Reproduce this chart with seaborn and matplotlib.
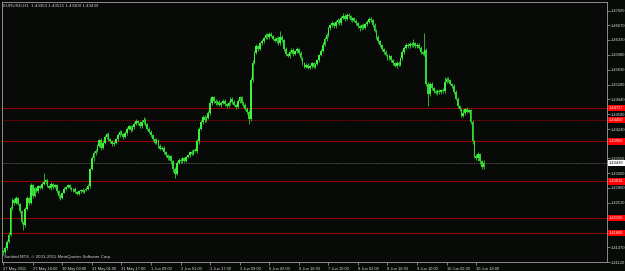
import numpy as np
import pandas as pd
import matplotlib
matplotlib.use("Agg")
import matplotlib.pyplot as plt
import seaborn as sns
from matplotlib.transforms import blended_transform_factory

# ---------------- data (EURUSD H1) ----------------
first_open = 1.4138
close = [
    1.4135, 1.4146, 1.4160, 1.4175, 1.4238, 1.4258, 1.4250, 1.4262, 1.4248, 1.4232,
    1.4205, 1.4198, 1.4236, 1.4262, 1.4250, 1.4292, 1.4268, 1.4285, 1.4278, 1.4290,
    1.4286, 1.4295, 1.4300, 1.4304, 1.4290, 1.4285, 1.4295, 1.4288, 1.4292, 1.4278,
    1.4268, 1.4262, 1.4275, 1.4284, 1.4288, 1.4292, 1.4286, 1.4280, 1.4284, 1.4276,
    1.4272, 1.4278, 1.4282, 1.4276, 1.4280, 1.4284, 1.4290, 1.4330, 1.4355, 1.4368,
    1.4372, 1.4385, 1.4398, 1.4380, 1.4392, 1.4405, 1.4412, 1.4400, 1.4395, 1.4388,
    1.4392, 1.4400, 1.4410, 1.4418, 1.4412, 1.4405, 1.4415, 1.4425, 1.4430, 1.4422,
    1.4428, 1.4436, 1.4442, 1.4438, 1.4430, 1.4440, 1.4446, 1.4435, 1.4425, 1.4418,
    1.4410, 1.4400, 1.4392, 1.4398, 1.4385, 1.4378, 1.4380, 1.4370, 1.4362, 1.4355,
    1.4360, 1.4348, 1.4330, 1.4318, 1.4345, 1.4352, 1.4348, 1.4355, 1.4350, 1.4358,
    1.4362, 1.4370, 1.4366, 1.4375, 1.4372, 1.4395, 1.4425, 1.4440, 1.4452, 1.4445,
    1.4450, 1.4462, 1.4485, 1.4498, 1.4490, 1.4484, 1.4488, 1.4480, 1.4486, 1.4490,
    1.4482, 1.4478, 1.4485, 1.4495, 1.4488, 1.4480, 1.4476, 1.4490, 1.4498, 1.4486,
    1.4480, 1.4472, 1.4465, 1.4448, 1.4540, 1.4580, 1.4602, 1.4618, 1.4612, 1.4625,
    1.4630, 1.4638, 1.4645, 1.4640, 1.4648, 1.4642, 1.4636, 1.4630, 1.4638, 1.4625,
    1.4640, 1.4632, 1.4612, 1.4600, 1.4595, 1.4605, 1.4610, 1.4600, 1.4606, 1.4612,
    1.4602, 1.4590, 1.4578, 1.4570, 1.4575, 1.4568, 1.4572, 1.4578, 1.4570, 1.4576,
    1.4585, 1.4598, 1.4608, 1.4622, 1.4635, 1.4645, 1.4660, 1.4668, 1.4672, 1.4665,
    1.4675, 1.4680, 1.4672, 1.4685, 1.4690, 1.4682, 1.4692, 1.4688, 1.4680, 1.4684,
    1.4678, 1.4672, 1.4665, 1.4660, 1.4668, 1.4662, 1.4670, 1.4676, 1.4682, 1.4680,
    1.4668, 1.4655, 1.4640, 1.4630, 1.4620, 1.4612, 1.4605, 1.4598, 1.4590, 1.4595,
    1.4585, 1.4578, 1.4572, 1.4580, 1.4575, 1.4590, 1.4605, 1.4615, 1.4622, 1.4618,
    1.4624, 1.4620, 1.4626, 1.4618, 1.4622, 1.4615, 1.4605, 1.4600, 1.4610, 1.4530,
    1.4505, 1.4530, 1.4520, 1.4512, 1.4508, 1.4514, 1.4510, 1.4516, 1.4512, 1.4535,
    1.4542, 1.4538, 1.4530, 1.4525, 1.4510, 1.4495, 1.4478, 1.4470, 1.4455, 1.4462,
    1.4470, 1.4465, 1.4468, 1.4440, 1.4395, 1.4360, 1.4355, 1.4365, 1.4348, 1.43353,
    1.43439,
]
wick_up_pips = [
    3, 4, 3, 8, 5, 4, 3, 5, 2, 3,
    2, 3, 4, 5, 3, 6, 4, 3, 4, 3,
    3, 4, 20, 3, 2, 3, 4, 2, 3, 2,
    3, 4, 2, 3, 2, 3, 2, 3, 2, 3,
    2, 3, 2, 3, 2, 3, 4, 3, 5, 4,
    4, 5, 3, 4, 6, 5, 3, 4, 3, 4,
    3, 4, 5, 3, 4, 3, 5, 4, 3, 4,
    5, 4, 6, 3, 4, 5, 6, 3, 4, 3,
    4, 3, 4, 5, 3, 4, 3, 4, 3, 4,
    3, 4, 3, 4, 5, 3, 4, 3, 4, 3,
    4, 3, 4, 3, 4, 5, 4, 6, 5, 4,
    4, 5, 12, 4, 3, 4, 3, 4, 3, 4,
    4, 3, 4, 5, 3, 4, 3, 5, 4, 3,
    3, 4, 3, 4, 6, 5, 4, 5, 4, 3,
    4, 3, 5, 4, 3, 4, 3, 4, 3, 5,
    15, 4, 3, 4, 3, 4, 3, 4, 3, 4,
    3, 4, 3, 4, 3, 4, 3, 4, 3, 4,
    4, 3, 4, 5, 4, 5, 4, 3, 5, 4,
    4, 5, 3, 4, 5, 3, 4, 3, 4, 3,
    3, 4, 3, 4, 3, 4, 3, 4, 5, 4,
    3, 4, 3, 4, 3, 4, 3, 4, 3, 4,
    3, 4, 3, 4, 3, 4, 5, 4, 3, 4,
    3, 4, 8, 3, 4, 3, 4, 3, 40, 3,
    4, 5, 4, 3, 4, 3, 4, 3, 4, 10,
    4, 3, 4, 3, 4, 5, 4, 3, 4, 8,
    4, 5, 3, 4, 5, 4, 5, 4, 3, 4,
    8,
]
wick_dn_pips = [
    6, 4, 5, 3, 2, 3, 4, 2, 3, 4,
    4, 11, 3, 2, 4, 3, 5, 3, 2, 4,
    3, 2, 3, 4, 3, 2, 3, 4, 2, 5,
    6, 4, 3, 2, 3, 2, 3, 2, 3, 2,
    3, 2, 3, 2, 3, 2, 3, 4, 3, 5,
    5, 3, 4, 6, 3, 4, 5, 3, 4, 3,
    3, 4, 3, 4, 3, 5, 3, 4, 3, 4,
    3, 4, 3, 5, 4, 3, 4, 5, 3, 4,
    4, 5, 3, 4, 5, 3, 4, 5, 3, 4,
    4, 5, 6, 10, 3, 4, 3, 4, 3, 4,
    3, 4, 3, 4, 3, 4, 5, 3, 4, 5,
    4, 3, 4, 5, 4, 3, 4, 3, 4, 3,
    3, 4, 3, 4, 5, 3, 4, 3, 4, 5,
    4, 3, 5, 12, 6, 5, 4, 3, 4, 3,
    3, 4, 3, 4, 5, 3, 4, 3, 4, 3,
    4, 3, 5, 4, 3, 4, 3, 4, 3, 4,
    4, 3, 5, 4, 3, 4, 3, 4, 3, 4,
    3, 4, 3, 4, 3, 4, 5, 3, 4, 3,
    3, 4, 5, 3, 4, 5, 3, 4, 3, 4,
    4, 3, 4, 5, 3, 4, 3, 4, 3, 4,
    4, 3, 5, 4, 3, 4, 5, 3, 4, 3,
    4, 5, 3, 4, 3, 4, 3, 4, 3, 4,
    4, 3, 4, 3, 4, 3, 4, 3, 4, 5,
    28, 4, 5, 4, 3, 4, 3, 4, 3, 4,
    3, 4, 3, 4, 3, 4, 5, 4, 3, 4,
    5, 4, 3, 4, 6, 5, 4, 5, 6, 4,
    4,
]

x_tick_labels = ["27 May 2011", "27 May 18:00", "30 May 09:00", "31 May 01:00",
                 "31 May 17:00", "1 Jun 09:00", "2 Jun 01:00", "2 Jun 17:00",
                 "3 Jun 09:00", "6 Jun 02:00", "6 Jun 18:00", "7 Jun 10:00",
                 "8 Jun 02:00", "8 Jun 18:00", "9 Jun 10:00", "10 Jun 02:00",
                 "10 Jun 18:00"]
bars_per_label = 16
y_ticks = [1.41120, 1.41470, 1.41810, 1.42160, 1.42510, 1.42860, 1.43200,
           1.43550, 1.43900, 1.44240, 1.44590, 1.44940, 1.45280, 1.45630,
           1.45980, 1.46330, 1.46670, 1.47020]
# tick labels hidden underneath the level boxes on the price scale
y_ticks_covered = [1.41810, 1.42160, 1.43900]
red_levels = [1.44727, 1.43950, 1.43010, 1.42150, 1.41800]
dotted_level = 1.44450
bid = 1.43439
header = "EURUSD,H1  1.43353 1.43515 1.43309 1.43439"
copyright_text = "Sunbird MT4, \u00a9 2001-2011 MetaQuotes Software Corp."

# ---------------- frame ----------------
df = pd.DataFrame({"close": close})
df["open"] = [first_open] + close[:-1]
df["bar"] = np.arange(len(df))
df["high"] = df[["open", "close"]].max(axis=1) + np.array(wick_up_pips) * 1e-4
df["low"] = df[["open", "close"]].min(axis=1) - np.array(wick_dn_pips) * 1e-4
df["bull"] = df["close"] >= df["open"]

BG = "#070a07"
sns.set_theme(style="dark", rc={"axes.facecolor": BG, "figure.facecolor": BG})
plt.rcParams["font.family"] = ["Liberation Sans", "DejaVu Sans"]
FS_X = 2.9
FS_Y = 2.85

fig = plt.figure(figsize=(6.25, 2.71), dpi=100)
ax = fig.add_axes([2 / 625, 9 / 271, 605 / 625, 260 / 271])
ax.set_facecolor(BG)

# wicks
ax.vlines(df["bar"], df["low"], df["high"], color="#2fc02f", linewidth=0.65, zorder=3)
# bodies
body_bottom = df[["open", "close"]].min(axis=1)
body_h = (df["close"] - df["open"]).abs().clip(lower=0.00005)
colors = np.where(df["bull"], "#40f040", "#33d633")
ax.bar(df["bar"], body_h, bottom=body_bottom, width=0.9, color=colors,
       linewidth=0, zorder=4)

# horizontal levels
for lv in red_levels:
    ax.axhline(lv, color="#a00000", linewidth=0.7, zorder=2)
ax.axhline(dotted_level, color="#b00000", linewidth=0.7, linestyle=(0, (1, 1)), zorder=2)
ax.axhline(bid, color="#707070", linewidth=0.6, linestyle=(0, (1, 1)), zorder=2)

ax.set_xlim(-0.6, -0.6 + 605 / 1.848)
ax.set_ylim(1.41120, 1.41120 + 260 * 0.0002346)

# x axis
xt = [i * bars_per_label for i in range(len(x_tick_labels))]
ax.set_xticks(xt)
ax.set_xticklabels(x_tick_labels)
for lab in ax.get_xticklabels():
    lab.set_horizontalalignment("left")
ax.tick_params(axis="x", bottom=True, direction="out", length=2.5, width=0.5,
               color="#b0b0b0", labelsize=FS_X, labelcolor="#d8d8d8", pad=0.8)

# y axis on the right
ax.set_yticks(y_ticks)
ax.set_yticklabels(["" if v in y_ticks_covered else f"{v:.5f}" for v in y_ticks])
ax.yaxis.tick_right()
ax.tick_params(axis="y", right=True, left=False, labelleft=False, labelright=True,
               direction="out", length=2.0, width=0.5, color="#b0b0b0",
               labelsize=FS_Y, labelcolor="#d8d8d8", pad=0.6)
ax.grid(False)
for s in ax.spines.values():
    s.set_color("#a0a0a0")
    s.set_linewidth(0.6)
    s.set_visible(True)

trans = blended_transform_factory(ax.transAxes, ax.transData)
for lv in red_levels + [dotted_level]:
    ax.text(1.0035, lv, f"{lv:.5f}", transform=trans, fontsize=FS_Y, color="white",
            va="center", ha="left", zorder=10, clip_on=False,
            bbox=dict(boxstyle="square,pad=0.3", fc="#ff0000", ec="none"))
ax.text(1.0035, bid, f"{bid:.5f}", transform=trans, fontsize=FS_Y, color="black",
        va="center", ha="left", zorder=10, clip_on=False,
        bbox=dict(boxstyle="square,pad=0.3", fc="white", ec="none"))

fig.text(3 / 625, 1 - 5.5 / 271, header, fontsize=3.2, color="#d0d0d0",
         va="center", ha="left")
ax.text(0.003, 0.018, copyright_text, transform=ax.transAxes, fontsize=3.2,
        color="#d0d0d0", va="center", ha="left")

fig.savefig("out.png", dpi=100, facecolor=BG)
